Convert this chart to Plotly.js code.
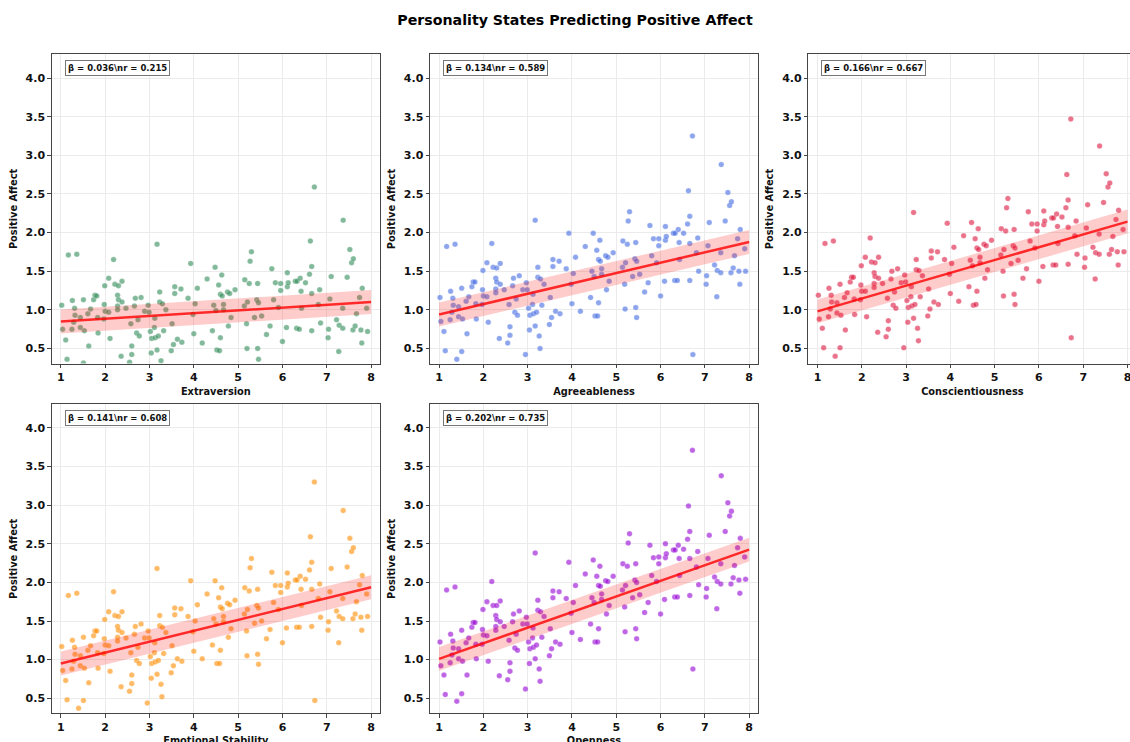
<!DOCTYPE html>
<html>
<head>
<meta charset="utf-8">
<script src="https://cdn.plot.ly/plotly-3.0.1.min.js"></script>
<style>
  html, body { margin: 0; padding: 0; overflow: hidden; background: #ffffff; }
  #chart { width: 1140px; height: 760px; }
</style>
</head>
<body>
<div id="chart"></div>
<script>
// ---- Data ----
const traitNames = ['Extraversion', 'Agreeableness', 'Conscientiousness', 'Emotional Stability', 'Openness'];
const betas = [0.036, 0.134, 0.166, 0.141, 0.202];
const rValues = [0.215, 0.589, 0.667, 0.608, 0.735];
const intercepts = [0.812, 0.806, 0.814, 0.809, 0.808];
const bandHalfWidths = [0.155, 0.155, 0.155, 0.155, 0.155];
const pointColors = ['#2e8b57', '#4169e1', '#dc143c', '#ff8c00', '#9400d3'];
const xTicks = [1, 2, 3, 4, 5, 6, 7, 8];
const yTicks = [0.5, 1.0, 1.5, 2.0, 2.5, 3.0, 3.5, 4.0];

// personality state scores (x, shared by all panels)
const stateScores = [1.02,1.04,1.11,1.14,1.17,1.25,1.26,1.29,1.31,1.32,1.36,1.40,1.44,1.44,1.51,1.51,1.53,1.61,1.63,1.67,
1.74,1.77,1.81,1.83,1.84,1.97,1.99,1.98,2.00,2.08,2.08,2.11,2.19,2.22,2.28,2.28,2.28,2.30,2.30,2.36,
2.38,2.38,2.47,2.55,2.58,2.60,2.60,2.66,2.68,2.71,2.74,2.77,2.81,2.89,2.95,2.97,2.99,3.02,3.04,3.05,
3.11,3.12,3.13,3.17,3.17,3.20,3.23,3.23,3.26,3.28,3.29,3.32,3.37,3.49,3.51,3.54,3.57,3.57,3.63,3.71,
3.73,3.87,3.93,3.98,4.00,4.03,4.08,4.19,4.30,4.42,4.45,4.48,4.50,4.52,4.56,4.58,4.60,4.60,4.63,4.64,
4.67,4.67,4.76,4.78,4.81,4.84,4.93,5.14,5.15,5.19,5.20,5.21,5.25,5.27,5.30,5.37,5.42,5.44,5.44,5.46,
5.46,5.53,5.64,5.72,5.76,5.80,5.84,5.91,5.96,5.96,6.00,6.09,6.11,6.11,6.13,6.29,6.32,6.33,6.38,6.40,
6.42,6.43,6.52,6.61,6.63,6.66,6.66,6.66,6.72,6.73,6.81,6.84,6.86,7.03,7.04,7.07,7.10,7.22,7.27,7.28,
7.36,7.37,7.36,7.46,7.52,7.56,7.60,7.59,7.64,7.67,7.74,7.77,7.79,7.80,7.90,7.92];

const extraversionPA = [1.06,0.75,0.61,0.36,1.71,0.75,1.12,0.84,1.02,0.93,1.72,0.22,0.90,0.77,1.13,0.31,0.73,0.95,0.53,1.01,
1.13,1.19,1.18,0.90,0.70,0.88,1.31,1.07,0.98,0.97,1.41,0.63,1.65,1.33,1.19,1.05,1.00,1.31,1.13,0.40,
1.37,1.10,1.02,0.32,0.82,0.53,0.42,1.05,1.15,0.70,0.87,0.66,1.16,0.98,0.13,1.06,0.97,0.72,0.44,0.63,
0.77,0.89,0.64,1.85,0.48,0.66,1.23,1.10,0.34,0.18,1.08,0.73,1.00,0.47,0.82,0.55,1.30,1.21,0.62,1.27,
0.58,1.15,1.60,0.94,0.69,1.08,1.28,0.57,1.40,0.73,1.06,1.55,0.99,0.48,1.32,0.47,0.64,1.20,1.45,1.18,
1.07,1.00,1.23,0.79,1.21,0.90,1.26,1.05,1.39,0.82,0.50,1.10,1.34,1.63,1.75,0.90,1.13,1.34,0.50,1.09,
0.36,0.92,0.68,0.79,1.53,1.13,1.35,1.03,1.34,1.25,0.59,0.77,1.48,1.30,1.35,1.37,0.76,1.37,0.75,1.41,
1.24,1.02,1.35,1.46,1.89,1.56,1.21,0.73,2.59,-0.24,1.07,1.26,0.83,0.64,0.75,1.14,1.43,0.87,0.46,0.80,
0.76,2.16,1.02,1.42,1.78,1.61,1.66,0.74,0.79,0.95,1.16,0.74,0.57,1.28,1.02,0.72];

const agreeablenessPA = [1.16,0.85,0.72,0.47,1.82,0.87,1.24,0.97,1.15,1.06,1.85,0.36,1.04,0.91,1.28,0.46,0.88,1.11,0.69,1.17,
1.30,1.36,1.36,1.08,0.88,1.07,1.51,1.26,1.18,1.17,1.61,0.84,1.86,1.55,1.41,1.27,1.22,1.54,1.36,0.63,
1.60,1.33,1.26,0.57,1.07,0.78,0.67,1.31,1.41,0.97,1.14,0.93,1.44,1.26,0.42,1.35,1.26,1.02,0.74,0.93,
1.07,1.20,0.95,2.16,0.79,0.97,1.55,1.42,0.66,0.50,1.40,1.06,1.33,0.81,1.16,0.90,1.65,1.56,0.98,1.63,
0.95,1.53,1.99,1.33,1.08,1.47,1.68,0.98,1.82,1.16,1.50,1.99,1.43,0.92,1.77,0.92,1.09,1.65,1.90,1.63,
1.53,1.46,1.70,1.26,1.68,1.37,1.74,1.55,1.89,1.33,1.01,1.61,1.85,2.15,2.27,1.43,1.66,1.87,1.03,1.63,
0.90,1.46,1.23,1.35,2.09,1.70,1.92,1.61,1.92,1.83,1.18,1.37,2.08,1.90,1.95,1.99,1.38,1.99,1.38,2.04,
1.87,1.65,1.99,2.11,2.54,2.21,1.86,1.38,3.25,0.42,1.74,1.93,1.50,1.33,1.44,1.83,2.13,1.58,1.17,1.51,
1.48,2.88,1.74,2.15,2.52,2.35,2.40,1.48,1.54,1.70,1.92,1.50,1.33,2.04,1.79,1.50];

const conscientiousnessPA = [1.19,0.88,0.76,0.51,1.86,0.91,1.28,1.01,1.19,1.10,1.89,0.40,1.09,0.96,1.33,0.51,0.93,1.16,0.74,1.22,
1.36,1.42,1.42,1.14,0.94,1.13,1.57,1.32,1.24,1.24,1.68,0.91,1.93,1.62,1.48,1.34,1.29,1.61,1.43,0.71,
1.68,1.41,1.34,0.65,1.15,0.86,0.75,1.40,1.50,1.06,1.23,1.02,1.53,1.35,0.51,1.45,1.36,1.12,0.84,1.03,
1.17,1.30,1.05,2.26,0.89,1.07,1.65,1.52,0.76,0.60,1.51,1.17,1.44,0.92,1.27,1.01,1.76,1.67,1.10,1.75,
1.07,1.65,2.12,1.46,1.21,1.60,1.81,1.11,1.96,1.30,1.64,2.13,1.57,1.06,1.92,1.07,1.24,1.80,2.05,1.78,
1.68,1.61,1.85,1.41,1.83,1.52,1.90,1.71,2.05,1.50,1.18,1.78,2.02,2.32,2.44,1.60,1.83,2.04,1.20,1.80,
1.07,1.64,1.41,1.53,2.27,1.89,2.11,1.80,2.11,2.02,1.37,1.56,2.28,2.10,2.15,2.19,1.58,2.19,1.58,2.24,
2.08,1.86,2.20,2.32,2.75,2.42,2.07,1.59,3.47,0.64,1.96,2.15,1.72,1.55,1.67,2.06,2.36,1.81,1.40,1.74,
1.72,3.12,1.98,2.39,2.76,2.59,2.64,1.72,1.78,1.95,2.17,1.75,1.58,2.29,2.04,1.75];

const emotionalStabilityPA = [1.17,0.86,0.73,0.48,1.83,0.88,1.25,0.98,1.16,1.07,1.86,0.37,1.05,0.92,1.29,0.47,0.89,1.12,0.70,1.18,
1.31,1.37,1.37,1.09,0.89,1.08,1.52,1.27,1.19,1.18,1.62,0.85,1.88,1.57,1.43,1.29,1.24,1.56,1.38,0.65,
1.62,1.35,1.28,0.59,1.09,0.80,0.69,1.33,1.43,0.99,1.16,0.95,1.46,1.28,0.44,1.37,1.28,1.04,0.76,0.95,
1.09,1.22,0.97,2.18,0.81,0.99,1.57,1.44,0.68,0.52,1.42,1.08,1.35,0.83,1.18,0.92,1.67,1.58,1.01,1.66,
0.98,1.56,2.02,1.36,1.11,1.50,1.71,1.01,1.85,1.19,1.53,2.02,1.46,0.95,1.80,0.95,1.12,1.68,1.93,1.66,
1.56,1.49,1.73,1.29,1.71,1.40,1.77,1.59,1.93,1.37,1.05,1.65,1.89,2.19,2.31,1.47,1.70,1.91,1.07,1.67,
0.94,1.50,1.27,1.39,2.13,1.74,1.96,1.65,1.96,1.87,1.22,1.41,2.12,1.94,1.99,2.03,1.42,2.03,1.42,2.08,
1.91,1.70,2.04,2.16,2.59,2.26,1.91,1.43,3.30,0.47,1.79,1.98,1.55,1.38,1.49,1.88,2.18,1.63,1.22,1.56,
1.53,2.93,1.79,2.20,2.57,2.40,2.45,1.53,1.59,1.75,1.97,1.55,1.38,2.09,1.85,1.56];

const opennessPA = [1.23,0.92,0.80,0.55,1.90,0.96,1.33,1.06,1.24,1.15,1.94,0.46,1.14,1.01,1.38,0.56,0.98,1.22,0.80,1.28,
1.42,1.48,1.48,1.20,1.01,1.20,1.65,1.39,1.32,1.31,1.75,0.98,2.01,1.70,1.57,1.43,1.38,1.70,1.52,0.79,
1.76,1.49,1.43,0.74,1.25,0.96,0.85,1.49,1.59,1.15,1.33,1.12,1.63,1.46,0.62,1.55,1.46,1.23,0.95,1.14,
1.28,1.41,1.16,2.38,1.01,1.19,1.77,1.64,0.88,0.72,1.62,1.29,1.56,1.05,1.40,1.14,1.89,1.80,1.23,1.88,
1.20,1.79,2.26,1.60,1.35,1.74,1.96,1.26,2.11,1.46,1.80,2.29,1.74,1.23,2.08,1.23,1.40,1.96,2.21,1.95,
1.85,1.78,2.02,1.59,2.01,1.70,2.08,1.90,2.24,1.68,1.36,1.96,2.21,2.51,2.63,1.80,2.03,2.24,1.40,2.00,
1.27,1.84,1.61,1.74,2.48,2.09,2.32,2.01,2.33,2.24,1.59,1.78,2.50,2.32,2.37,2.42,1.81,2.42,1.81,2.48,
2.31,2.09,2.43,2.56,2.99,2.66,2.31,1.83,3.71,0.88,2.20,2.40,1.97,1.81,1.92,2.31,2.61,2.07,1.66,2.01,
1.98,3.38,2.24,2.66,3.03,2.86,2.92,1.98,2.06,2.22,2.45,2.03,1.86,2.57,2.33,2.04];

const panelY = [extraversionPA, agreeablenessPA, conscientiousnessPA, emotionalStabilityPA, opennessPA];

// ---- Layout geometry ----
const W = 1140, H = 760;
const FONT = '"DejaVu Sans", "Liberation Sans", sans-serif';
const xDomains = [[0.0454, 0.3333], [0.3772, 0.6649], [0.7091, 0.9968], [0.0454, 0.3333], [0.3772, 0.6649]];
const yDomains = [[0.5217, 0.9283], [0.5217, 0.9283], [0.5217, 0.9283], [0.0614, 0.4680], [0.0614, 0.4680]];

function hexToRgba(hex, a) {
  const n = parseInt(hex.slice(1), 16);
  return 'rgba(' + ((n >> 16) & 255) + ',' + ((n >> 8) & 255) + ',' + (n & 255) + ',' + a + ')';
}

const traces = [];
const layout = {
  width: W, height: H,
  margin: {l: 0, r: 0, t: 0, b: 0},
  paper_bgcolor: '#ffffff',
  plot_bgcolor: '#ffffff',
  showlegend: false,
  font: {family: FONT, color: '#111111'},
  title: {
    text: 'Personality States Predicting Positive Affect',
    font: {family: FONT, size: 14.2, weight: 'bold', color: '#000000'},
    x: 575 / W, xanchor: 'center', xref: 'paper',
    y: 1 - 20 / H, yanchor: 'middle', yref: 'paper'
  },
  annotations: []
};

for (let i = 0; i < 5; i++) {
  const ax = i === 0 ? '' : String(i + 1);
  const xName = 'x' + ax, yName = 'y' + ax;
  const xLine = [1, 8];
  const yLine = xLine.map(v => intercepts[i] + betas[i] * v);
  const upper = yLine.map(v => v + bandHalfWidths[i]);
  const lower = yLine.map(v => v - bandHalfWidths[i]);

  traces.push({
    type: 'scatter', mode: 'markers', xaxis: xName, yaxis: yName,
    x: stateScores, y: panelY[i],
    marker: {size: 5.5, color: hexToRgba(pointColors[i], 0.6), line: {width: 0.4, color: 'rgba(255,255,255,0.6)'}},
    hoverinfo: 'skip'
  });
  traces.push({
    type: 'scatter', mode: 'lines', xaxis: xName, yaxis: yName,
    x: xLine.concat(xLine.slice().reverse()),
    y: upper.concat(lower.slice().reverse()),
    fill: 'toself', fillcolor: 'rgba(255,0,0,0.2)', line: {width: 0, color: 'rgba(0,0,0,0)'},
    hoverinfo: 'skip'
  });
  traces.push({
    type: 'scatter', mode: 'lines', xaxis: xName, yaxis: yName,
    x: xLine, y: yLine,
    line: {color: 'rgba(255,0,0,0.8)', width: 2.5},
    hoverinfo: 'skip'
  });

  layout['xaxis' + ax] = {
    domain: xDomains[i], anchor: yName,
    range: [0.795, 8.2], tickvals: xTicks, ticktext: xTicks.map(String),
    showgrid: true, gridcolor: '#ebebeb', gridwidth: 1, zeroline: false,
    showline: true, mirror: true, linecolor: '#444444', linewidth: 1,
    ticks: 'outside', ticklen: 3.5, tickwidth: 1, tickcolor: '#444444',
    tickfont: {family: FONT, size: 11, weight: 'bold', color: '#111111'},
    title: {text: traitNames[i], font: {family: FONT, size: 9.8, weight: 'bold', color: '#111111'}, standoff: 4}
  };
  layout['yaxis' + ax] = {
    domain: yDomains[i], anchor: xName,
    range: [0.305, 4.305], tickvals: yTicks, ticktext: yTicks.map(v => v.toFixed(1)),
    showgrid: true, gridcolor: '#ebebeb', gridwidth: 1, zeroline: false,
    showline: true, mirror: true, linecolor: '#444444', linewidth: 1,
    ticks: 'outside', ticklen: 3.5, tickwidth: 1, tickcolor: '#444444',
    tickfont: {family: FONT, size: 11, weight: 'bold', color: '#111111'},
    title: {text: 'Positive Affect', font: {family: FONT, size: 9.8, weight: 'bold', color: '#111111'}, standoff: 6}
  };

  layout.annotations.push({
    xref: xName + ' domain', yref: yName + ' domain',
    x: 0.04, y: 0.982, xanchor: 'left', yanchor: 'top',
    text: 'β = ' + betas[i].toFixed(3) + '\\nr = ' + rValues[i].toFixed(3),
    showarrow: false, align: 'left',
    font: {family: FONT, size: 8.5, weight: 'bold', color: '#111111'},
    bgcolor: '#ffffff', bordercolor: '#777777', borderwidth: 1, borderpad: 2
  });
}

Plotly.newPlot('chart', traces, layout, {staticPlot: true, displayModeBar: false});
</script>
</body>
</html>
